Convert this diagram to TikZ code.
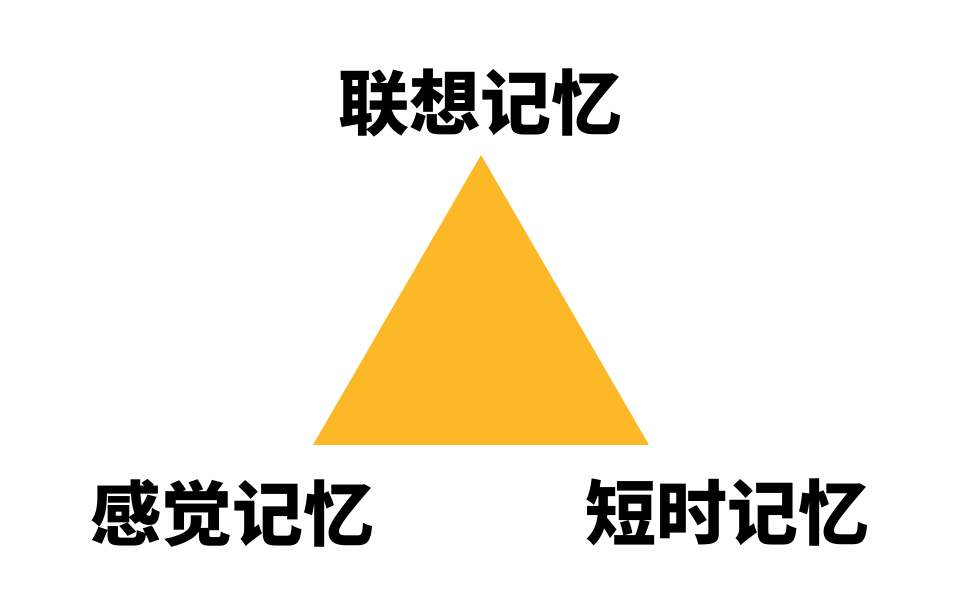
\documentclass[tikz,border=0pt]{standalone}
\usepackage{fontspec}
\newfontfamily\cjk{Noto Sans CJK SC}
\usepackage{tikz}
\definecolor{tri}{HTML}{FDB827}

\begin{document}
\begin{tikzpicture}[
  x=1pt, y=1pt,
  memory/.style={font=\cjk\bfseries\fontsize{71}{71}\selectfont, inner sep=0pt},
]
\useasboundingbox (0,0) rectangle (976,610);
\coordinate (apex) at (481,455);
\coordinate (left) at (313,165);
\coordinate (right) at (649,165);
\fill[tri] (apex) -- (left) -- (right) -- cycle;
\node[memory] (assoc) at (480,507) {联想记忆};
\node[memory] (sense) at (232,97) {感觉记忆};
\node[memory] (short) at (727,97) {短时记忆};
\end{tikzpicture}
\end{document}
